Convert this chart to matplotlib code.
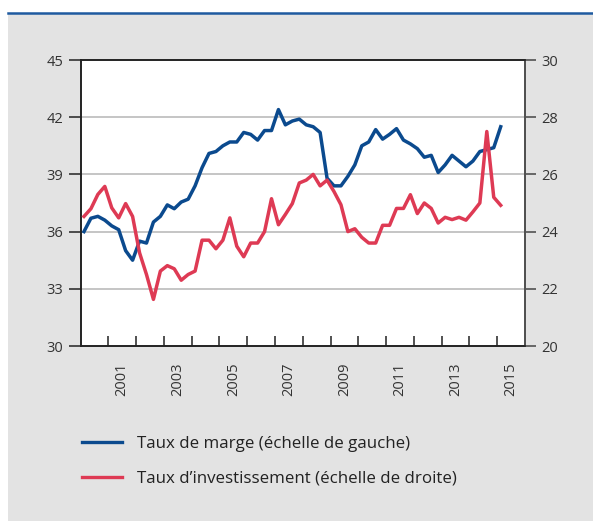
import matplotlib
matplotlib.use("Agg")
import matplotlib.pyplot as plt
from matplotlib.lines import Line2D
from matplotlib.patches import Rectangle
import numpy as np

plt.rcParams['font.family'] = ['Open Sans', 'DejaVu Sans']

# données trimestrielles 2000T1 - 2015T1
taux_marge = [
    36.0, 36.7, 36.8, 36.6, 36.3, 36.1, 35.0, 34.5, 35.5, 35.4,
    36.5, 36.8, 37.4, 37.2, 37.55, 37.7, 38.4, 39.35, 40.1, 40.2,
    40.5, 40.7, 40.7, 41.2, 41.1, 40.8, 41.3, 41.3, 42.4, 41.6,
    41.8, 41.9, 41.6, 41.5, 41.2, 38.8, 38.4, 38.4, 38.9, 39.5,
    40.5, 40.7, 41.35, 40.85, 41.1, 41.4, 40.8, 40.6, 40.35, 39.9,
    40.0, 39.1, 39.5, 40.0, 39.7, 39.4, 39.7, 40.2, 40.3, 40.4,
    41.5,
]
taux_invest = [
    24.53, 24.8, 25.3, 25.58, 24.83, 24.48, 24.98, 24.53, 23.26, 22.5,
    21.63, 22.62, 22.81, 22.7, 22.3, 22.5, 22.62, 23.7, 23.7, 23.4,
    23.7, 24.48, 23.49, 23.12, 23.6, 23.6, 24.0, 25.15, 24.24, 24.6,
    24.98, 25.7, 25.8, 26.0, 25.6, 25.8, 25.4, 24.94, 24.0, 24.1,
    23.8, 23.6, 23.6, 24.22, 24.22, 24.81, 24.81, 25.29, 24.63, 25.0,
    24.81, 24.3, 24.5, 24.42, 24.5, 24.4, 24.69, 25.0, 27.5, 25.2,
    24.92,
]
annees_labels = ['2001', '2003', '2005', '2007', '2009', '2011', '2013', '2015']
legende = ['Taux de marge (échelle de gauche)',
           'Taux d\u2019investissement (échelle de droite)']

BLEU = '#0b4a8e'
ROUGE = '#de3a54'
GRIS_FOND = '#e3e3e3'
TEXTE = '#333333'

t = 2000 + (np.arange(len(taux_marge)) + 0.5) / 4

W, H = 593, 521
fig = plt.figure(figsize=(W / 100, H / 100), dpi=100)
fig.patch.set_facecolor('white')

# fond gris et filet bleu en haut
fig.patches.append(Rectangle((8 / W, 0), 1, 1 - 14 / H, transform=fig.transFigure,
                             facecolor=GRIS_FOND, edgecolor='none', zorder=-10))
fig.lines.append(Line2D([8 / W, 1], [1 - 12.5 / H, 1 - 12.5 / H], transform=fig.transFigure,
                        color='#1f5aa0', linewidth=1.8))

ax = fig.add_axes([80.5 / W, (H - 346) / H, (525 - 80.5) / W, (346 - 60) / H])
ax.set_facecolor('white')
ax2 = ax.twinx()

ax.plot(t, taux_marge, color=BLEU, linewidth=2.5, zorder=3)
ax2.plot(t, taux_invest, color=ROUGE, linewidth=2.5, zorder=3)

ax.set_xlim(2000, 2016)
ax.set_ylim(30, 45)
ax2.set_ylim(20, 30)
ax.set_yticks(np.arange(30, 46, 3))
ax2.set_yticks(np.arange(20, 31, 2))

# grille horizontale
for v in [33, 36, 39, 42]:
    ax.axhline(v, color='#b5b5b5', linewidth=1.1, zorder=1)

# axe des x : repères annuels vers l'intérieur, libellés centrés sur l'année
ax.set_xticks(np.arange(2001, 2016), minor=True)
ax.set_xticks([int(a) + 0.5 for a in annees_labels])
ax.set_xticklabels(annees_labels, rotation=90)
ax.tick_params(axis='x', which='major', length=0, pad=12, labelsize=10.5, labelcolor=TEXTE)
ax.tick_params(axis='x', which='minor', direction='in', length=7.5, width=1.1, color='#222222')
ax.tick_params(axis='y', length=9, width=1.1, pad=3.5, labelsize=10.5, labelcolor=TEXTE, color='#222222')
ax2.tick_params(axis='y', length=8, width=1.1, pad=3.5, labelsize=10.5, labelcolor=TEXTE, color='#444444')

for a in (ax, ax2):
    for s in a.spines.values():
        s.set_linewidth(1.2)
        s.set_color('#222222')
ax2.spines['right'].set_color('#555555')

handles = [Line2D([], [], color=BLEU, linewidth=2.4),
           Line2D([], [], color=ROUGE, linewidth=2.4)]
fig.legend(handles, legende, loc='upper left',
           bbox_to_anchor=(82 / W, 1 - 436 / H), frameon=False,
           fontsize=12.2, handlelength=2.35, handletextpad=0.9,
           labelspacing=1.1, borderpad=0, borderaxespad=0, labelcolor='#222222')

fig.savefig('out.png', dpi=100, facecolor=fig.get_facecolor())
